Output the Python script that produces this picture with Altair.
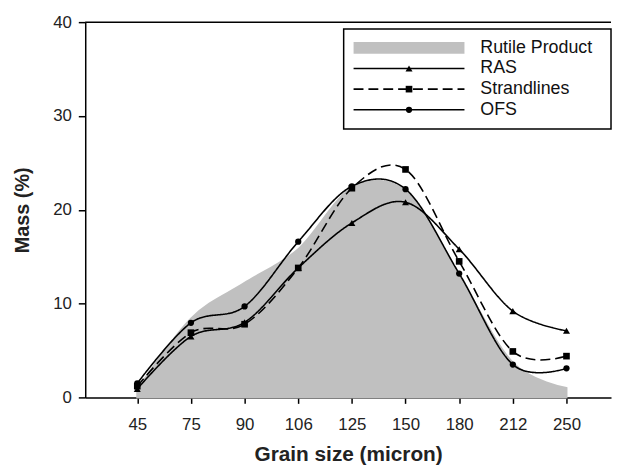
import altair as alt
import pandas as pd

# ---- data ----
sizes = ["45", "75", "90", "106", "125", "150", "180", "212", "250"]
rutile = [0.8, 8.4, 12.2, 15.8, 22.3, 22.0, 13.0, 3.7, 1.0]
ras = [0.9, 6.5, 8.0, 13.8, 18.6, 20.8, 15.8, 9.2, 7.1]
strand = [1.2, 6.9, 7.8, 13.8, 22.3, 24.3, 14.5, 4.9, 4.4]
ofs = [1.5, 7.95, 9.7, 16.6, 22.5, 22.2, 13.2, 3.5, 3.1]
series_names = ["Rutile Product", "RAS", "Strandlines", "OFS"]
line_names = ["RAS", "Strandlines", "OFS"]
y_ticks = [0, 10, 20, 30, 40]

FONT = "Liberation Sans"
GRAY = "#c0c0c0"

idx = list(range(len(sizes)))
area_df = pd.DataFrame({"idx": idx, "value": rutile})
rows = []
for name, vals in zip(line_names, [ras, strand, ofs]):
    for i, v in zip(idx, vals):
        rows.append({"idx": i, "value": v, "series": name})
line_df = pd.DataFrame(rows)
legend_df = pd.DataFrame({"series": series_names})
top_df = pd.DataFrame({"value": [max(y_ticks)]})

label_expr = "[" + ",".join(f"'{s}'" for s in sizes) + "][datum.value]"

x_enc = alt.X(
    "idx:Q",
    scale=alt.Scale(domain=[-0.97, 8.83], nice=False, zero=False),
    axis=alt.Axis(values=idx, labelExpr=label_expr, title="Grain size (micron)",
                  tickSize=6, labelPadding=13, titlePadding=12, titleFontSize=21),
)
y_enc = alt.Y(
    "value:Q",
    scale=alt.Scale(domain=[0, 40], nice=False),
    axis=alt.Axis(values=y_ticks, title="Mass (%)", tickSize=7, labelPadding=7,
                  titlePadding=20),
)

dash_scale = alt.Scale(domain=line_names, range=[[1, 0], [10, 5], [1, 0]])
shape_scale = alt.Scale(domain=line_names, range=["triangle-up", "square", "circle"])
size_scale = alt.Scale(domain=line_names, range=[50, 40, 64])

area = alt.Chart(area_df).mark_area(
    color=GRAY, stroke=GRAY, strokeWidth=2, interpolate="cardinal"
).encode(x=x_enc, y=y_enc)

lines = alt.Chart(line_df).mark_line(
    color="black", strokeWidth=1.6, interpolate="cardinal"
).encode(
    x=x_enc, y=y_enc,
    detail="series:N",
    strokeDash=alt.StrokeDash("series:N", scale=dash_scale, legend=None),
)

points = alt.Chart(line_df).mark_point(
    filled=True, color="black", opacity=1
).encode(
    x=x_enc, y=y_enc,
    shape=alt.Shape("series:N", scale=shape_scale, legend=None),
    size=alt.Size("series:N", scale=size_scale, legend=None),
)

top_rule = alt.Chart(top_df).mark_rule(color="black", strokeWidth=1.5).encode(
    y=y_enc
)

main = alt.layer(area, lines, points, top_rule)

# ---- legend drawn as its own layer ----
leg_y = alt.Y(
    "series:N",
    scale=alt.Scale(type="point", domain=series_names, range=[26, 88.5], padding=0),
    axis=None,
)

frame = alt.Chart(legend_df.head(1)).mark_rect(
    fill="white", stroke="black", strokeWidth=1.5
).encode(x=alt.value(261), x2=alt.value(531), y=alt.value(7), y2=alt.value(108))

swatch = alt.Chart(legend_df).transform_filter(
    alt.datum.series == series_names[0]
).mark_rule(color=GRAY, strokeWidth=12).encode(
    x=alt.value(271), x2=alt.value(383), y=leg_y
)

leg_lines = alt.Chart(legend_df).transform_filter(
    alt.datum.series != series_names[0]
).mark_rule(color="black", strokeWidth=1.6).encode(
    x=alt.value(271), x2=alt.value(383), y=leg_y,
    strokeDash=alt.StrokeDash("series:N", scale=dash_scale, legend=None),
)

leg_points = alt.Chart(legend_df).transform_filter(
    alt.datum.series != series_names[0]
).mark_point(filled=True, color="black", opacity=1).encode(
    x=alt.value(327), y=leg_y,
    shape=alt.Shape("series:N", scale=shape_scale, legend=None),
    size=alt.Size("series:N", scale=size_scale, legend=None),
)

leg_text = alt.Chart(legend_df).mark_text(
    align="left", baseline="middle", fontSize=18, font=FONT, color="#111"
).encode(x=alt.value(399), y=leg_y, text="series:N")

legend = alt.layer(frame, swatch, leg_lines, leg_points, leg_text)

chart = alt.layer(main, legend).resolve_scale(y="independent").properties(
    width=531, height=379,
    padding={"left": 5, "top": 3, "right": 0, "bottom": 0},
).configure_view(stroke=None).configure_axis(
    grid=False, domainColor="black", domainWidth=1.5, tickColor="black",
    tickWidth=1.5, labelColor="#222", labelFont=FONT, labelFontSize=17,
    titleFont=FONT, titleFontSize=20, titleFontWeight="bold", titleColor="#222",
)

chart.save("out.html", embed_options={"renderer": "svg", "actions": False})
